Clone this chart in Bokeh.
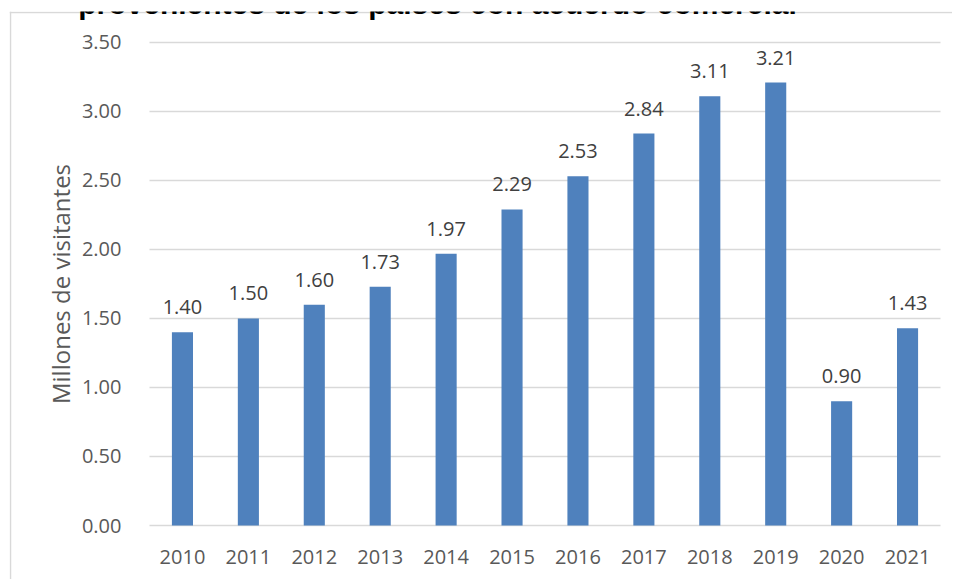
from bokeh.plotting import figure
from bokeh.models import ColumnDataSource, Range1d, FixedTicker, NumeralTickFormatter, Label, Span
from bokeh.embed import file_html
from bokeh.resources import INLINE
from bokeh.core.properties import value

# ---- data ----
years = ["2010", "2011", "2012", "2013", "2014", "2015", "2016", "2017", "2018", "2019", "2020", "2021"]
visitors = [1.40, 1.50, 1.60, 1.73, 1.97, 2.29, 2.53, 2.84, 3.11, 3.21, 0.90, 1.43]
y_ticks = [0.0, 0.5, 1.0, 1.5, 2.0, 2.5, 3.0, 3.5]
title_text = "provenientes de los países con acuerdo comercial"
y_label = "Millones de visitantes"

xs = list(range(len(years)))
src = ColumnDataSource(dict(x=xs, v=visitors, lbl=[f"{v:.2f}" for v in visitors]))
grid_src = ColumnDataSource(dict(y=y_ticks, x0=[-0.5] * len(y_ticks), x1=[len(years) - 0.5] * len(y_ticks)))

FONT = "Open Sans"
GREY = "#595959"
BORDER = "#d9d9d9"

# The plot frame is the whole chart area (the light-grey box); the category
# band -0.5 .. 11.5 and 0 .. 3.5 sits inside it, axes are fixed at its edges.
p = figure(width=952, height=579, output_backend="svg", toolbar_location=None,
           x_range=Range1d(-2.6238, 11.682), y_range=Range1d(-0.3913, 3.7246),
           min_border_left=9, min_border_right=0, min_border_top=11, min_border_bottom=0)
p.outline_line_color = None
p.background_fill_color = "white"
p.border_fill_color = "white"
p.xgrid.grid_line_color = None
p.ygrid.grid_line_color = None

# horizontal gridlines at the y ticks, spanning the category band
p.segment(x0="x0", x1="x1", y0="y", y1="y", source=grid_src, line_color=BORDER, line_width=1.5)

p.vbar(x="x", top="v", width=0.32, source=src, fill_color="#4f81bd", line_color=None)
p.text(x="x", y="v", text="lbl", source=src, text_align="center", text_baseline="alphabetic",
       y_offset=-25, text_font=value(FONT), text_font_size="20px", text_color="#404040")

# axes fixed at the band edges
p.xaxis.fixed_location = 0
p.yaxis.fixed_location = -0.5
p.yaxis.bounds = (0, 3.5)
p.xaxis.ticker = FixedTicker(ticks=xs)
p.xaxis.major_label_overrides = {i: y for i, y in enumerate(years)}
p.yaxis.ticker = FixedTicker(ticks=y_ticks)
p.yaxis.formatter = NumeralTickFormatter(format="0.00")
for ax in (p.xaxis, p.yaxis):
    ax.axis_line_color = None
    ax.major_tick_line_color = None
    ax.minor_tick_line_color = None
    ax.major_label_text_font = FONT
    ax.major_label_text_font_size = "20px"
    ax.major_label_text_color = GREY
p.xaxis.major_label_standoff = 18
p.yaxis.major_label_standoff = 22
p.yaxis.axis_label = y_label
p.yaxis.axis_label_text_font = FONT
p.yaxis.axis_label_text_font_size = "24px"
p.yaxis.axis_label_text_font_style = "normal"
p.yaxis.axis_label_text_color = GREY
p.yaxis.axis_label_standoff = 2

# chart-area border (left and top edges are inside the window)
p.add_layout(Span(location=-2.6086, dimension="height", line_color=BORDER, line_width=1.5))
p.add_layout(Span(location=3.7174, dimension="width", line_color=BORDER, line_width=1.5))

# title above the chart area, cut off by the top edge as in the reference
p.add_layout(Label(x=3.869, y=3.786, text=title_text, text_align="center",
                   text_baseline="alphabetic", text_font="Liberation Sans",
                   text_font_style="bold", text_font_size="30px", text_color="black"))

open("out.html", "w").write(file_html(p, INLINE))
